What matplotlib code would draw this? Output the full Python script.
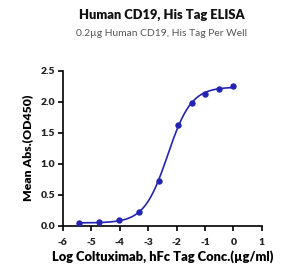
import numpy as np
import matplotlib
matplotlib.use("Agg")
import matplotlib.pyplot as plt

# log10 concentration (ug/ml) and mean OD450
log_conc = [-5.42, -4.72, -4.02, -3.33, -2.63, -1.94, -1.46, -0.99, -0.51, -0.03]
od450 = [0.04, 0.055, 0.087, 0.22, 0.72, 1.62, 1.98, 2.12, 2.20, 2.26]

x_ticks = [-6, -5, -4, -3, -2, -1, 0, 1]
y_ticks = [0.0, 0.5, 1.0, 1.5, 2.0, 2.5]

title = "Human CD19, His Tag ELISA"
subtitle = "0.2\u00b5g Human CD19, His Tag Per Well"
xlabel = "Log Coltuximab, hFc Tag Conc.(\u00b5g/ml)"
ylabel = "Mean Abs.(OD450)"

plt.rcParams['font.family'] = ['Lato', 'DejaVu Sans']
blue = '#2424b4'


def fit_4pl(x, y):
    # grid search on ec50 / hill, bottom and top by linear least squares
    x = np.asarray(x)
    y = np.asarray(y)
    best = None
    for ec in np.linspace(-3.5, -1.0, 251):
        for h in np.linspace(0.5, 3.0, 251):
            s = 1.0 / (1.0 + 10 ** ((ec - x) * h))
            A = np.column_stack([np.ones_like(s), s])
            coef, *_ = np.linalg.lstsq(A, y, rcond=None)
            err = np.sum((A @ coef - y) ** 2)
            if best is None or err < best[0]:
                best = (err, coef[0], coef[1], ec, h)
    return best[1:]


bottom, span, ec50, hill = fit_4pl(log_conc, od450)
xs = np.linspace(min(log_conc), max(log_conc), 300)
ys = bottom + span / (1.0 + 10 ** ((ec50 - xs) * hill))

fig = plt.figure(figsize=(2.99, 2.78), dpi=100)
ax = fig.add_axes([0.2097, 0.188, 0.6663, 0.558])

ax.plot(xs, ys, color=blue, lw=1.2, zorder=2)
ax.plot(log_conc, od450, 'o', color=blue, ms=3.6, zorder=3, clip_on=False)

ax.set_xlim(-6, 1)
ax.set_ylim(0, 2.5)
ax.set_xticks(x_ticks)
ax.set_yticks(y_ticks)
ax.set_xticklabels([str(t) for t in x_ticks])
ax.set_yticklabels(['%.1f' % t for t in y_ticks])

for side in ['top', 'right']:
    ax.spines[side].set_visible(False)
for side in ['left', 'bottom']:
    ax.spines[side].set_linewidth(1.2)
ax.tick_params(width=1.2, length=3.5, labelsize=7.5, pad=2)
for lab in ax.get_xticklabels() + ax.get_yticklabels():
    lab.set_fontweight('heavy')
    lab.set_color('#222222')
ax.tick_params(axis='x', pad=5)

ax.set_xlabel(xlabel, fontsize=9.3, fontweight='heavy', labelpad=3)
ax.set_ylabel(ylabel, fontsize=8.8, fontweight='heavy', labelpad=5)

fig.text(0.542, 0.945, title, ha='center', va='center', fontsize=9.3, fontweight='heavy', color='#111111')
fig.text(0.542, 0.878, subtitle, ha='center', va='center', fontsize=7.4, color='#555555')

fig.savefig('out.png', dpi=100)
